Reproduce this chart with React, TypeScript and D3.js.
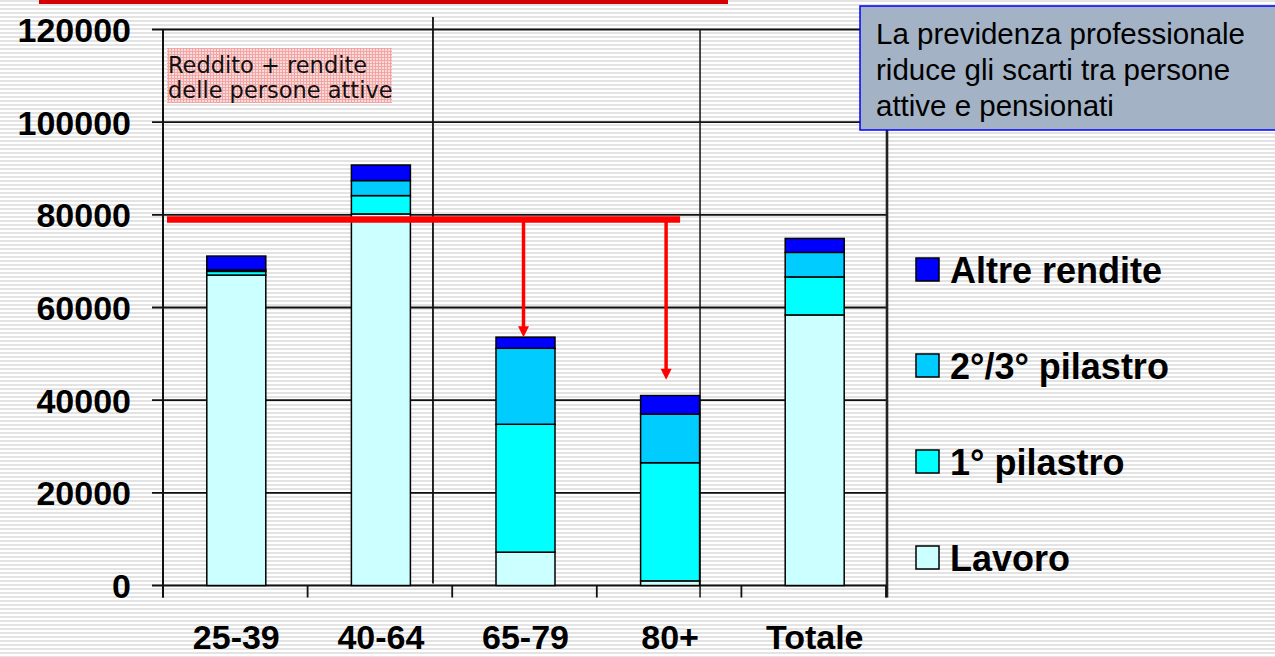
import React from "react";
import * as d3 from "d3";

// Income composition by age group (CHF per year)
const categories = ["25-39", "40-64", "65-79", "80+", "Totale"];
const seriesNames = ["Lavoro", "1° pilastro", "2°/3° pilastro", "Altre rendite"];
const lavoro = [67000, 80200, 7200, 1000, 58400];
const primoPilastro = [800, 3950, 27600, 25500, 8200];
const secondoTerzoPilastro = [300, 3250, 16400, 10500, 5300];
const altreRendite = [3000, 3350, 2400, 4000, 3000];
const seriesColors = ["#ccffff", "#00ffff", "#00ccff", "#0000ff"];
const yTicks = [0, 20000, 40000, 60000, 80000, 100000, 120000];

// Reference level: income of the active population, and where the arrows land
const activeLevel = 79000;
const arrowCats = ["65-79", "80+"];
const arrowEnds = [53600, 44400];

const W = 1275;
const H = 657;
const plot = { left: 163, right: 886, top: 29.5, bottom: 585.5 };
const sans = "'Liberation Sans', Arial, sans-serif";
const verdana = "'DejaVu Sans', Verdana, sans-serif";

export default function App() {
  const x = d3
    .scaleBand<string>()
    .domain(categories)
    .range([plot.left + 1, plot.right + 1])
    .paddingInner(0.592)
    .paddingOuter(0.296);
  const y = d3.scaleLinear().domain([0, 120000]).range([plot.bottom, plot.top]);

  const rows = categories.map((c, i) => ({
    cat: c,
    "Lavoro": lavoro[i],
    "1° pilastro": primoPilastro[i],
    "2°/3° pilastro": secondoTerzoPilastro[i],
    "Altre rendite": altreRendite[i],
  }));
  const stacked = d3.stack<any>().keys(seriesNames)(rows);

  const step = x.step();
  const bw = x.bandwidth();
  const cx = (c: string) => (x(c) as number) + bw / 2;

  // extra frame lines of the slide layout
  const dividerA = plot.left + step * 1.867;
  const dividerB = plot.left + step * 3.714;

  const lineStartX = plot.left + 4;
  const lineEndX = cx("80+") + 10;
  const arrowX = [cx("65-79") - 2, cx("80+") - 4];

  return (
    <svg
      width={W}
      height={H}
      style={{ position: "absolute", left: 0, top: 0 }}
      fontFamily={sans}
    >
      <defs>
        <pattern id="stripes" width="8" height="4" patternUnits="userSpaceOnUse">
          <rect width="8" height="4" fill="#ffffff" />
          <rect y="0" width="8" height="2" fill="#e3e3e3" />
        </pattern>
        <pattern id="pinkdots" width="3" height="3" patternUnits="userSpaceOnUse">
          <rect width="3" height="3" fill="#fbdada" />
          <rect width="1" height="3" fill="#f2a5a5" />
          <rect width="3" height="1" fill="#f2a5a5" />
        </pattern>
      </defs>
      <rect width={W} height={H} fill="url(#stripes)" />

      {/* title underline */}
      <rect x={39} y={0} width={689} height={4} fill="#d40000" />

      {/* horizontal gridlines with tick stubs */}
      {yTicks.map((t) => (
        <line
          key={t}
          x1={plot.left - 11}
          x2={plot.right}
          y1={y(t)}
          y2={y(t)}
          stroke="#111"
          strokeWidth={t === 0 ? 2.2 : 1.8}
        />
      ))}
      {/* frame */}
      <line x1={plot.left} x2={plot.left} y1={plot.top} y2={plot.bottom + 12} stroke="#111" strokeWidth={2} />
      <line x1={plot.right + 1} x2={plot.right + 1} y1={plot.top} y2={plot.bottom + 12} stroke="#222" strokeWidth={2.6} />
      <line x1={dividerA} x2={dividerA} y1={17} y2={plot.bottom - 2} stroke="#111" strokeWidth={1.8} />
      <line x1={dividerB} x2={dividerB} y1={plot.top} y2={plot.bottom + 12} stroke="#111" strokeWidth={1.5} />
      {/* x ticks */}
      {d3.range(categories.length + 1).map((i) => (
        <line
          key={i}
          x1={plot.left + step * i}
          x2={plot.left + step * i}
          y1={plot.bottom}
          y2={plot.bottom + 12}
          stroke="#111"
          strokeWidth={1.8}
        />
      ))}

      {/* stacked bars */}
      {stacked.map((s, si) =>
        s.map((d, i) => (
          <rect
            key={`${si}-${i}`}
            x={x(categories[i])}
            y={y(d[1])}
            width={bw}
            height={Math.max(0, y(d[0]) - y(d[1]))}
            fill={seriesColors[si]}
            stroke="#000"
            strokeWidth={1.5}
          />
        ))
      )}

      {/* y tick labels */}
      {yTicks.map((t) => (
        <text
          key={t}
          x={131}
          y={y(t) + 12.5}
          textAnchor="end"
          fontSize={34}
          fontWeight="bold"
          fill="#000"
        >
          {t}
        </text>
      ))}

      {/* category labels */}
      {categories.map((c) => (
        <text key={c} x={cx(c)} y={649} textAnchor="middle" fontSize={34} fontWeight="bold" fill="#000">
          {c}
        </text>
      ))}

      {/* active-population income level and drops to retirees */}
      <line
        x1={lineStartX}
        x2={lineEndX}
        y1={y(activeLevel)}
        y2={y(activeLevel)}
        stroke="#ff0000"
        strokeWidth={6.5}
      />
      {arrowCats.map((c, i) => {
        const ax = arrowX[i];
        const y0 = y(activeLevel);
        const y1 = y(arrowEnds[i]);
        return (
          <g key={c}>
            <line x1={ax} x2={ax} y1={y0} y2={y1 - 10} stroke="#ff0000" strokeWidth={3.5} />
            <path d={`M${ax - 5.5},${y1 - 11} L${ax + 5.5},${y1 - 11} L${ax},${y1} Z`} fill="#ff0000" />
          </g>
        );
      })}

      {/* label for the reference level */}
      <rect x={167} y={48} width={225} height={55} fill="url(#pinkdots)" />
      <text x={168} y={73} fontFamily={verdana} fontSize={22.5} fill="#111">
        Reddito + rendite
      </text>
      <text x={168} y={98} fontFamily={verdana} fontSize={22.5} fill="#111">
        delle persone attive
      </text>

      {/* commentary box */}
      <rect x={860} y={6} width={430} height={124} fill="#a3b3c5" stroke="#0000ff" strokeWidth={1.5} />
      {["La previdenza professionale", "riduce gli scarti tra persone", "attive e pensionati"].map((t, i) => (
        <text key={t} x={876} y={44 + i * 36} fontSize={29.5} fill="#000">
          {t}
        </text>
      ))}

      {/* legend, top series first */}
      {seriesNames
        .slice()
        .reverse()
        .map((n, i) => {
          const base = 283 + i * 96;
          const ci = seriesNames.length - 1 - i;
          return (
            <g key={n}>
              <rect x={916} y={base - 25} width={23} height={23} fill={seriesColors[ci]} stroke="#000" strokeWidth={1.5} />
              <text x={950} y={base} fontSize={36} fontWeight="bold" fill="#000">
                {n}
              </text>
            </g>
          );
        })}
    </svg>
  );
}
